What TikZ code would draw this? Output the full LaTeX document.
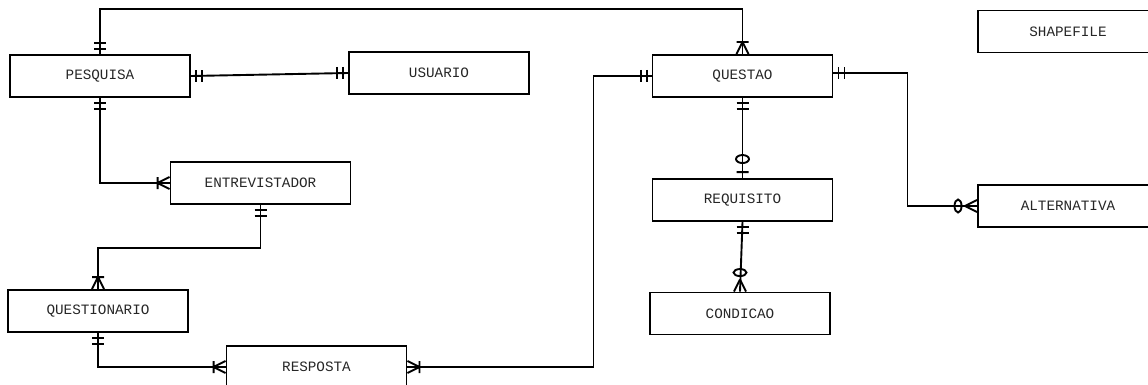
\documentclass[tikz,border=0pt]{standalone}
\usepackage{fontspec}
\newfontfamily\ermono{Liberation Mono}
\usepackage{tikz}
\tikzset{
  entity/.style={draw, line width=1.9pt, minimum width=180pt, minimum height=42pt,
    inner sep=0pt, font=\ermono\fontsize{14.3}{16}\selectfont, text=black!85},
  erline/.style={line width=1.9pt},
  onlyone/.pic={\draw[erline] (5,-6) -- (5,6) (11,-6) -- (11,6);},
  onemany/.pic={\draw[erline] (12,0) -- (0,6) (12,0) -- (0,-6) (12,-6) -- (12,6);},
  zeroone/.pic={\draw[erline] (6,-6) -- (6,6) (19,0) ellipse [x radius=4, y radius=6.5];},
  zeromany/.pic={\draw[erline] (12,0) -- (0,6) (12,0) -- (0,-6) (19,0) ellipse [x radius=3.5, y radius=6.5];}
}

\begin{document}
\begin{tikzpicture}[x=1pt, y=1pt]
    \useasboundingbox (0,0) rectangle (1148,-385);
    \clip (0,0) rectangle (1148,-385);
    \node[entity] (pesq) at (100,-76) {PESQUISA};
    \node[entity] (usu) at (439,-73) {USUARIO};
    \node[entity] (entr) at (260.5,-183) {ENTREVISTADOR};
    \node[entity] (qnario) at (98,-311) {QUESTIONARIO};
    \node[entity] (resp) at (316.5,-367) {RESPOSTA};
    \node[entity] (quest) at (742.5,-76) {QUESTAO};
    \node[entity] (requ) at (742.5,-200) {REQUISITO};
    \node[entity] (cond) at (740,-313.5) {CONDICAO};
    \node[entity] (alt) at (1068,-206) {ALTERNATIVA};
    \node[entity] (shp) at (1068,-31.5) {SHAPEFILE};
    % relationships
    \draw[erline] (pesq.north) -- ++(0,45) -| (quest.north);
    \draw[erline] (pesq.east) -- (usu.west);
    \draw[erline] (pesq.south) |- (entr.west);
    \draw[erline] (entr.south) -- ++(0,-43) -| (qnario.north);
    \draw[erline] (qnario.south) |- (resp.west);
    \draw[erline] (resp.east) -- ++(186,0) |- (quest.west);
    \draw[erline] (quest.south) -- (requ.north);
    \draw[erline] (requ.south) -- (cond.north);
    \draw[erline] ([yshift=3pt]quest.east) -- ++(74,0) |- (alt.west);
    % cardinalities
    \pic[rotate=90] at (pesq.north) {onlyone};
    \pic[rotate=90] at (quest.north) {onemany};
    \pic at (pesq.east) {onlyone};
    \pic[rotate=180] at (usu.west) {onlyone};
    \pic[rotate=-90] at (pesq.south) {onlyone};
    \pic[rotate=180] at (entr.west) {onemany};
    \pic[rotate=-90] at (entr.south) {onlyone};
    \pic[rotate=90] at (qnario.north) {onemany};
    \pic[rotate=-90] at (qnario.south) {onlyone};
    \pic[rotate=180] at (resp.west) {onemany};
    \pic at (resp.east) {onemany};
    \pic[rotate=180] at (quest.west) {onlyone};
    \pic[rotate=-90] at (quest.south) {onlyone};
    \pic[rotate=90] at (requ.north) {zeroone};
    \pic[rotate=-90] at (requ.south) {onlyone};
    \pic[rotate=90] at (cond.north) {zeromany};
    \pic at ([yshift=3pt]quest.east) {onlyone};
    \pic[rotate=180] at (alt.west) {zeromany};
\end{tikzpicture}
\end{document}
